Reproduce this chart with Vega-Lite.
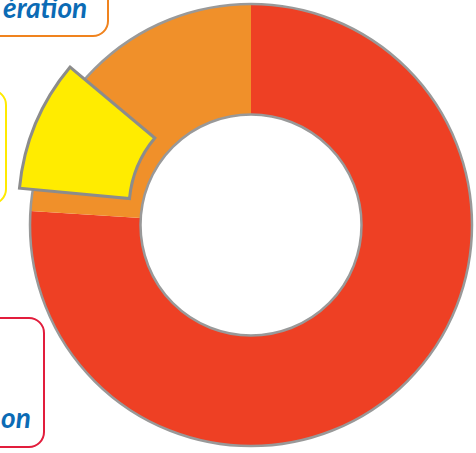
{
  "$schema": "https://vega.github.io/schema/vega-lite/v6.json",
  "width": 450,
  "height": 450,
  "autosize": "none",
  "padding": {"left": 26, "top": 0, "right": 0, "bottom": 3},
  "config": {
    "view": {"stroke": null},
    "legend": {
      "orient": "none",
      "title": null,
      "symbolSize": 0,
      "symbolOpacity": 0,
      "symbolStrokeWidth": 0,
      "labelOffset": 0,
      "labelFont": "Lato",
      "labelFontStyle": "italic",
      "labelFontWeight": "bold",
      "labelFontSize": 28,
      "labelColor": "#0b6bb5",
      "labelLimit": 400,
      "strokeWidth": 2,
      "cornerRadius": 15
    }
  },
  "datasets": {
    "parts": [
      {"segment": "rouge", "label": "on", "value": 76},
      {"segment": "orange", "label": "ération", "value": 24}
    ],
    "highlight": [
      {"segment": "jaune", "label": "jaune", "from": 76.5, "to": 86.1}
    ]
  },
  "layer": [
    {
      "data": {"name": "parts"},
      "transform": [
        {"stack": "value", "groupby": [], "as": ["v0", "v1"]},
        {"filter": "datum.segment === 'rouge'"}
      ],
      "mark": {"type": "arc", "outerRadius": 221, "innerRadius": 110.5},
      "encoding": {
        "theta": {"field": "v0", "type": "quantitative", "scale": {"domain": [0, 100]}},
        "theta2": {"field": "v1"},
        "color": {
          "field": "label", "type": "nominal",
          "scale": {"range": ["#ee4024"]},
          "legend": {
            "legendX": -66, "legendY": 318, "padding": 13,
            "title": "\u00a0", "titleFontSize": 28, "titlePadding": 47,
            "strokeColor": "#e21d3c"
          }
        }
      }
    },
    {
      "data": {"name": "parts"},
      "transform": [
        {"stack": "value", "groupby": [], "as": ["v0", "v1"]},
        {"filter": "datum.segment === 'orange'"}
      ],
      "mark": {"type": "arc", "outerRadius": 221, "innerRadius": 110.5},
      "encoding": {
        "theta": {"field": "v0", "type": "quantitative", "scale": {"domain": [0, 100]}},
        "theta2": {"field": "v1"},
        "color": {
          "field": "label", "type": "nominal",
          "scale": {"range": ["#f0902a"]},
          "legend": {
            "legendX": -63, "legendY": -16, "padding": 12,
            "title": "\u00a0", "titleOrient": "right", "titleFontSize": 28, "titlePadding": 9,
            "strokeColor": "#f0831e"
          }
        }
      }
    },
    {
      "data": {"name": "parts"},
      "transform": [
        {"aggregate": [{"op": "sum", "field": "value", "as": "total"}]}
      ],
      "mark": {"type": "arc", "outerRadius": 221, "innerRadius": 110.5, "filled": false, "stroke": "#999999", "strokeWidth": 2.5},
      "encoding": {
        "theta": {"field": "total", "type": "quantitative", "scale": {"domain": [0, 100]}}
      }
    },
    {
      "data": {"name": "highlight"},
      "mark": {"type": "arc", "outerRadius": 221, "innerRadius": 110.5, "xOffset": -11.5, "yOffset": -16, "stroke": "#8c8c8c", "strokeWidth": 3, "strokeJoin": "miter"},
      "encoding": {
        "theta": {"field": "from", "type": "quantitative", "scale": {"domain": [0, 100]}},
        "theta2": {"field": "to"},
        "color": {
          "field": "label", "type": "nominal",
          "scale": {"range": ["#ffec00"]},
          "legend": {
            "legendX": -74, "legendY": 90, "padding": 13,
            "strokeColor": "#ffea00",
            "labelExpr": "['\u00a0', '\u00a0', '\u00a0']"
          }
        }
      }
    }
  ],
  "resolve": {"scale": {"color": "independent"}, "legend": {"color": "independent"}}
}
